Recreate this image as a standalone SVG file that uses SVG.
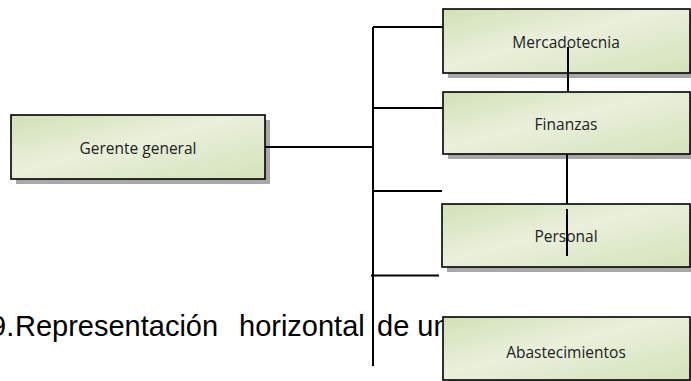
<svg xmlns="http://www.w3.org/2000/svg" width="691" height="381" viewBox="0 0 691 381">
<defs>
<linearGradient id="g" x1="0" y1="0" x2="1" y2="1">
<stop offset="0" stop-color="#d3e0b5"/>
<stop offset="0.45" stop-color="#e9f0dc"/>
<stop offset="1" stop-color="#d5e2b9"/>
</linearGradient>
<style>
.sh{fill:#a8a8a8}
.bx{fill:url(#g);stroke:#000;stroke-width:1.6}
.lb{font-family:"Open Sans","Liberation Sans",sans-serif;font-size:15.5px;fill:#222;text-anchor:middle}
.cn{stroke:#000;stroke-width:2;fill:none}
.cap{font-family:"Liberation Sans",Arial,sans-serif;font-size:29px;fill:#000}
</style>
</defs>
<rect width="691" height="381" fill="#fff"/>
<text class="cap" y="336"><tspan x="-10">9.</tspan><tspan x="15">Representación</tspan><tspan x="239">horizontal</tspan><tspan x="377">de un</tspan></text>
<g id="gerente">
<rect class="sh" x="16" y="120" width="254" height="64"/>
<rect class="bx" x="11" y="115" width="254" height="64"/>
<text class="lb" x="138" y="154">Gerente general</text>
</g>
<g id="mercadotecnia">
<rect class="sh" x="448" y="14" width="250" height="64"/>
<rect class="bx" x="443" y="9" width="247" height="64"/>
<text class="lb" x="566" y="48">Mercadotecnia</text>
</g>
<g id="finanzas">
<rect class="sh" x="448" y="97" width="250" height="62"/>
<rect class="bx" x="443" y="92" width="247" height="62"/>
<text class="lb" x="566" y="130">Finanzas</text>
</g>
<g id="personal">
<rect class="sh" x="447" y="209" width="250" height="63"/>
<rect class="bx" x="442" y="204" width="248" height="63"/>
<text class="lb" x="566" y="242">Personal</text>
</g>
<g id="abastecimientos">
<rect class="sh" x="448" y="322" width="250" height="64"/>
<rect class="bx" x="443" y="317" width="247" height="63"/>
<text class="lb" x="566" y="358">Abastecimientos</text>
</g>
<g id="connectors">
<path class="cn" d="M265 147H373M373 27V366M373 27H443M373 108H443M373 191H442M371 275.5H439"/>
<path class="cn" d="M568 47V92M567 154V204M567 209V256"/>
</g>
</svg>
